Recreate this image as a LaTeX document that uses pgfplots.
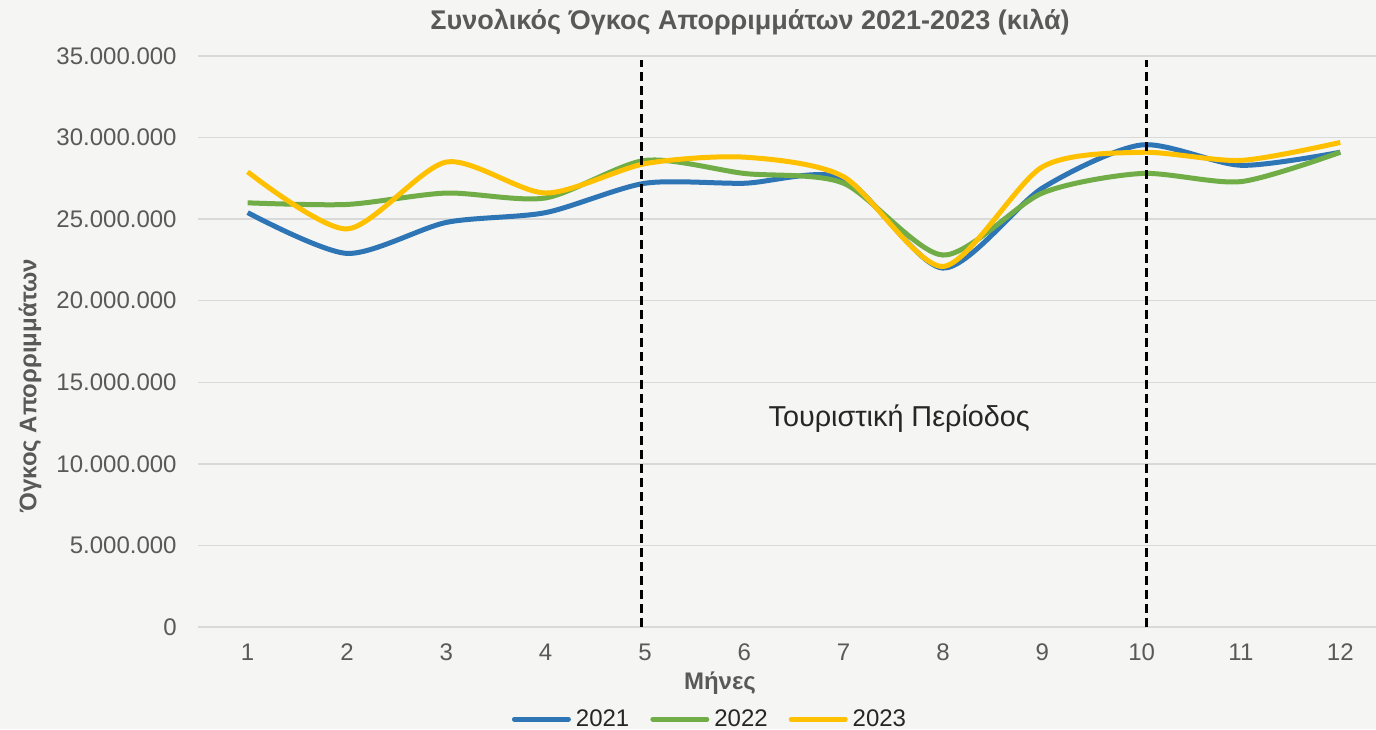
\documentclass[border=0pt]{standalone}
\usepackage{fontspec}
\setmainfont{Liberation Sans}
\usepackage{pgfplots}
\pgfplotsset{compat=1.18}
\definecolor{bg}{RGB}{245,245,243}
\definecolor{c21}{RGB}{46,117,182}
\definecolor{c22}{RGB}{112,173,71}
\definecolor{c23}{RGB}{255,192,0}
\definecolor{txt}{RGB}{89,89,89}
\definecolor{dark}{RGB}{38,38,38}
\definecolor{gridc}{RGB}{217,217,217}
\begin{document}
\begin{tikzpicture}
\fill[bg] (0,0) rectangle (688pt,364.5pt);
\useasboundingbox (0,0) rectangle (688pt,364.5pt);
\begin{axis}[
  at={(99pt,51pt)}, anchor=south west,
  scale only axis, width=589pt, height=285.5pt,
  xmin=0.5, xmax=12.36, ymin=0, ymax=35000000,
  xtick={1,2,3,4,5,6,7,8,9,10,11,12},
  ytick={0,5000000,10000000,15000000,20000000,25000000,30000000,35000000},
  scaled y ticks=false,
  /pgf/number format/assume math mode=true,
  yticklabel style={/pgf/number format/fixed, /pgf/number format/1000 sep={.}, anchor=east, inner sep=0pt, xshift=-10.5pt},
  axis line style={draw=none},
  major tick length=0pt,
  ymajorgrids, grid style={gridc, line width=0.75pt},
  tick label style={font=\fontsize{12}{14}\selectfont, text=txt},
  xticklabel style={anchor=center, inner sep=0pt, yshift=-12.5pt},
  clip=false,
  legend columns=3,
  legend style={at={(0.4355,-0.1615)}, anchor=center, draw=none, fill=none,
    font=\fontsize{12}{14}\selectfont, text=dark, inner sep=0pt,
    /tikz/every odd column/.append style={column sep=0.5pt},
    /tikz/every even column/.append style={column sep=8.5pt}},
  legend image code/.code={\draw[#1, line cap=round] (0pt,0pt) -- (27pt,0pt);},
  every axis plot/.append style={line width=2.5pt, smooth, tension=0.45},
]
\addplot[c21] coordinates {(1,25400000)(2,22900000)(3,24800000)(4,25400000)(5,27200000)(6,27200000)(7,27500000)(8,22000000)(9,26900000)(10,29550000)(11,28300000)(12,29100000)};
\addlegendentry{2021}
\addplot[c22] coordinates {(1,26000000)(2,25900000)(3,26600000)(4,26300000)(5,28600000)(6,27800000)(7,27200000)(8,22800000)(9,26600000)(10,27800000)(11,27300000)(12,29100000)};
\addlegendentry{2022}
\addplot[c23] coordinates {(1,27900000)(2,24400000)(3,28500000)(4,26600000)(5,28400000)(6,28800000)(7,27600000)(8,22100000)(9,28200000)(10,29100000)(11,28600000)(12,29700000)};
\addlegendentry{2023}
\addplot[black, line width=1.2pt, dash pattern=on 4.5pt off 2.5pt, sharp plot, forget plot] coordinates {(4.965,0)(4.965,34750000)};
\addplot[black, line width=1.2pt, dash pattern=on 4.5pt off 2.5pt, sharp plot, forget plot] coordinates {(10.048,0)(10.048,34750000)};
\node[font=\fontsize{14.4}{17}\selectfont, text=dark] at (axis cs:7.56,12800000) {Τουριστική Περίοδος};
\end{axis}
\node[font=\bfseries\fontsize{13.5}{16}\selectfont, text=txt] at (375pt,353.5pt) {Συνολικός Όγκος Απορριμμάτων 2021-2023 (κιλά)};
\node[font=\bfseries\fontsize{12}{14}\selectfont, text=txt, rotate=90] at (15pt,171.5pt) {Όγκος Απορριμμάτων};
\node[font=\bfseries\fontsize{12}{14}\selectfont, text=txt] at (360pt,23pt) {Μήνες};
\end{tikzpicture}
\end{document}
